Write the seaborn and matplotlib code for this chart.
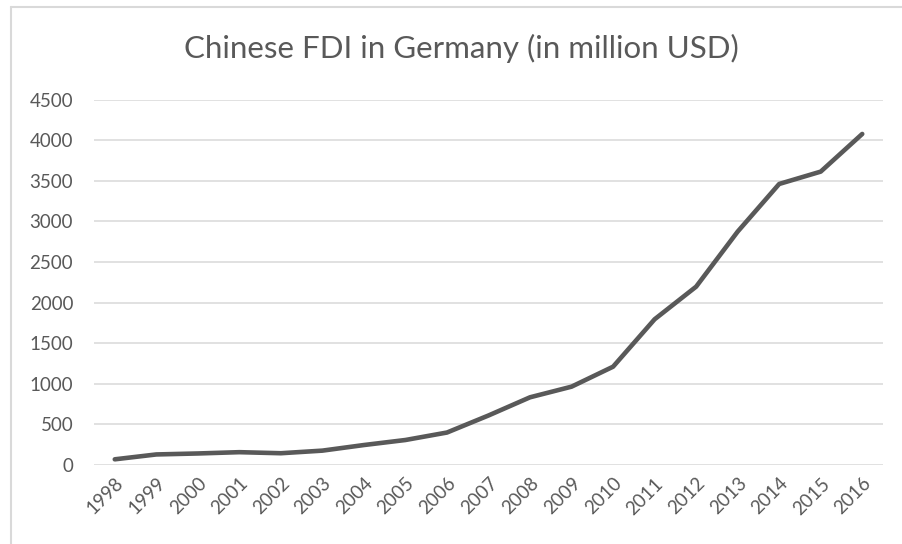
import matplotlib
matplotlib.use("Agg")
import matplotlib.pyplot as plt
import seaborn as sns
import pandas as pd
from matplotlib.lines import Line2D

years = ["1998", "1999", "2000", "2001", "2002", "2003", "2004", "2005", "2006", "2007",
         "2008", "2009", "2010", "2011", "2012", "2013", "2014", "2015", "2016"]
fdi = [70, 130, 142, 158, 145, 177, 246, 308, 400, 610,
       834, 965, 1211, 1795, 2197, 2875, 3462, 3614, 4078]
y_ticks = [0, 500, 1000, 1500, 2000, 2500, 3000, 3500, 4000, 4500]

df = pd.DataFrame({"year": years, "fdi": fdi})

sns.set_theme(style="white")
plt.rcParams["font.family"] = ["Lato", "DejaVu Sans"]

text_grey = "#595959"
grid_grey = "#d9d9d9"

fig = plt.figure(figsize=(9.03, 5.44), dpi=100)
ax = fig.add_axes([94 / 903, 1 - 465 / 544, (883 - 94) / 903, (465 - 99.7) / 544])

sns.lineplot(data=df, x="year", y="fdi", ax=ax, color=text_grey, linewidth=3.3,
             sort=False, solid_capstyle="round", solid_joinstyle="round", zorder=3)

ax.set_xlim(-0.5, len(years) - 0.5)
ax.set_ylim(0, 4500)
ax.set_yticks(y_ticks)
ax.set_yticklabels([str(v) for v in y_ticks])
ax.yaxis.grid(True, color=grid_grey, linewidth=1.1, zorder=0)
ax.xaxis.grid(False)
for s in ax.spines.values():
    s.set_visible(False)
ax.set_xlabel("")
ax.set_ylabel("")
ax.tick_params(axis="both", length=0, labelsize=13.5, labelcolor=text_grey)
ax.tick_params(axis="y", pad=15)
ax.tick_params(axis="x", pad=7)
plt.setp(ax.get_xticklabels(), rotation=45, ha="right", rotation_mode="anchor")

fig.text(0.511, 1 - 48 / 544, "Chinese FDI in Germany (in million USD)", ha="center", va="center",
         fontsize=22.5, color=text_grey)

# outer chart frame
fig.add_artist(Line2D([11 / 903, 11 / 903], [0, 1 - 7 / 544], transform=fig.transFigure,
                      color=grid_grey, linewidth=1.5))
fig.add_artist(Line2D([11 / 903, 1], [1 - 7 / 544, 1 - 7 / 544], transform=fig.transFigure,
                      color=grid_grey, linewidth=1.5))

fig.savefig("out.png", dpi=100, facecolor="white")
